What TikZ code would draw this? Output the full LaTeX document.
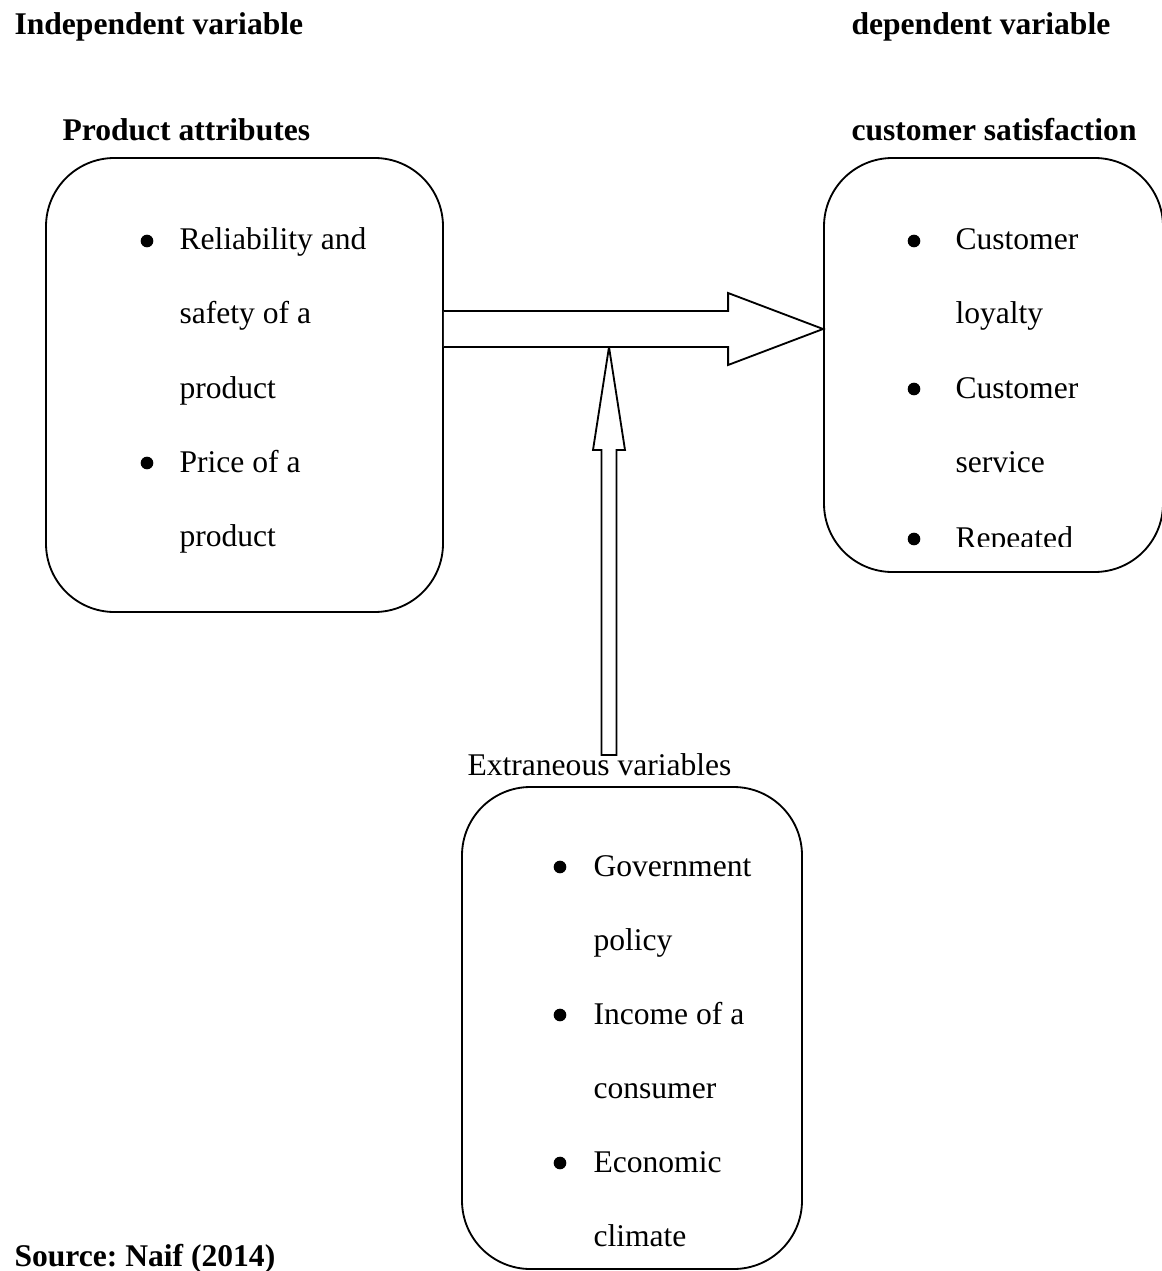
\documentclass[tikz,border=0pt]{standalone}
\usepackage{fontspec}
\setmainfont{Liberation Serif}
\usetikzlibrary{calc}
\newcommand{\pxu}{.38pt}
\frenchspacing

\begin{document}
\begin{tikzpicture}[x=\pxu, y=-\pxu, font=\fontsize{12}{14}\selectfont,
    frame/.style={draw, line width=.7pt, rounded corners=26pt},
    head/.style={anchor=base west, inner sep=0, font=\fontsize{12}{14}\selectfont\bfseries},
    item/.style={anchor=base west, inner sep=0},
    dot/.style={fill, circle, inner sep=0, minimum size=4.8pt},
    blockarrow/.style={draw, fill=white, line width=.7pt}]

        \useasboundingbox (0,0) rectangle (1161,1271);

          % headings
        \node (indep) at (14,35) [head] {Independent variable};
        \node (dep) at (851,35) [head] {dependent variable};
        \node (attrlbl) at (62,141) [head] {Product attributes};
        \node (satlbl) at (851,141) [head] {customer satisfaction};

          % boxes
        \node (attr) at (244.5,385) [frame, minimum width=397*\pxu, minimum height=454*\pxu] {};
        \node (sat) at (993.5,365) [frame, minimum width=339*\pxu, minimum height=414*\pxu] {};
        \node (extr) at (632,1028) [frame, minimum width=340*\pxu, minimum height=482*\pxu] {};

          % product attributes
        \node (ba1) at (147,241) [dot] {};
        \node (a1) at (179,250) [item] {Reliability and};
        \node (a2) at (179,324) [item] {safety of a};
        \node (a3) at (179,398) [item] {product};
        \node (ba2) at (147,463) [dot] {};
        \node (a4) at (179,472) [item] {Price of a};
        \node (a5) at (179,546) [item] {product};

          % customer satisfaction
        \begin{scope}
        \clip (800,150) rectangle (1161,546);
        \node (bs1) at (914,241) [dot] {};
        \node (s1) at (955,250) [item] {Customer};
        \node (s2) at (955,324) [item] {loyalty};
        \node (bs2) at (914,389) [dot] {};
        \node (s3) at (955,398) [item] {Customer};
        \node (s4) at (955,472) [item] {service};
        \node (bs3) at (914,539) [dot] {};
        \node (s5) at (955,548) [item] {Repeated};
        \end{scope}

          % extraneous variables
        \begin{scope}
        \clip (440,780) rectangle (820,1248);
        \node (be1) at (560,867) [dot] {};
        \node (e1) at (593,876) [item] {Government};
        \node (e2) at (593,950) [item] {policy};
        \node (be2) at (560,1015) [dot] {};
        \node (e3) at (593,1024) [item] {Income of a};
        \node (e4) at (593,1098) [item] {consumer};
        \node (be3) at (560,1163) [dot] {};
        \node (e5) at (593,1172) [item] {Economic};
        \node (e6) at (593,1246) [item] {climate};
        \end{scope}

          % arrows
        \coordinate (htail) at (attr.east |- 0,329);
        \coordinate (htip) at (sat.west |- 0,329);
        \coordinate (vtip) at (609,347);
        \coordinate (vtail) at (609,755);

        \draw[blockarrow] ($(vtail)+(-7.5,0)$) -- ($(vtip)+(-7.5,103)$) -- ($(vtip)+(-16,103)$) -- (vtip)
            -- ($(vtip)+(16,103)$) -- ($(vtip)+(7.5,103)$) -- ($(vtail)+(7.5,0)$) -- cycle;
        \draw[blockarrow] ($(htail)+(0,-18)$) -- ($(htip)+(-95,-18)$) -- ($(htip)+(-95,-36)$) -- (htip)
            -- ($(htip)+(-95,36)$) -- ($(htip)+(-95,18)$) -- ($(htail)+(0,18)$);

        \node (extrlbl) at (467,775) [item] {Extraneous variables};

        \node (src) at (14,1266) [head] {Source: Naif (2014)};

\end{tikzpicture}
\end{document}
